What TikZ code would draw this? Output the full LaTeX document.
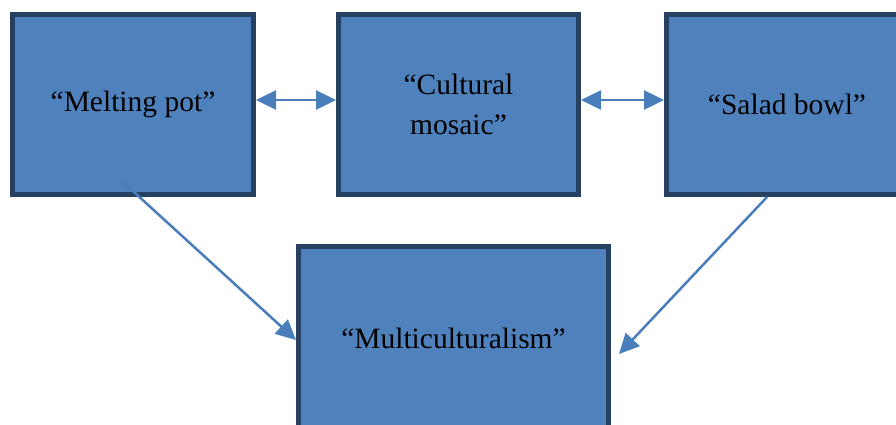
\documentclass[tikz,border=0pt]{standalone}
\usepackage{fontspec}
\setmainfont{Liberation Serif}
\usepackage{tikz}
\usetikzlibrary{arrows.meta}

\definecolor{boxfill}{RGB}{79,129,189}
\definecolor{boxline}{RGB}{38,64,97}
\definecolor{arrowcol}{RGB}{74,126,187}

\tikzset{
  conceptbox/.style={draw=boxline, fill=boxfill, line width=5pt, rectangle,
    minimum height=180pt, align=center, inner sep=0pt,
    font=\fontsize{29.5}{40}\selectfont},
  link/.style={draw=arrowcol, line width=2.5pt, -{Triangle[length=20pt,width=19pt]}},
  dlink/.style={draw=arrowcol, line width=2.5pt,
    {Triangle[length=20pt,width=19pt]}-{Triangle[length=20pt,width=19pt]}}
}

\begin{document}
\begin{tikzpicture}[x=1pt, y=-1pt]
  \useasboundingbox (0,0) rectangle (896,424);
  \clip (0,0) rectangle (896,424);

  \node (melt) [conceptbox, minimum width=241pt] at (133,104.5) {“Melting pot”};
  \node (mosaic) [conceptbox, minimum width=240pt] at (458.5,104.5) {“Cultural\\mosaic”};
  \node (salad) [conceptbox, minimum width=241pt] at (787,104.5) {“Salad bowl”};
  \node (multi) [conceptbox, minimum width=310pt, minimum height=183pt] at (453.5,338) {“Multiculturalism”};

  \coordinate (meltfoot) at ([xshift=-10pt,yshift=15pt]melt.south);
  \coordinate (saladfoot) at ([xshift=-20pt]salad.south);
  \coordinate (multiright) at ([xshift=8pt,yshift=-16pt]multi.east);

  \draw[dlink] ([yshift=4.5pt]melt.east) -- ([yshift=4.5pt]mosaic.west);
  \draw[dlink] ([yshift=4.5pt]mosaic.east) -- ([yshift=4.5pt]salad.west);
  \draw[link] (meltfoot) -- ([yshift=-2pt]multi.west);
  \draw[link] (saladfoot) -- (multiright);
\end{tikzpicture}
\end{document}
